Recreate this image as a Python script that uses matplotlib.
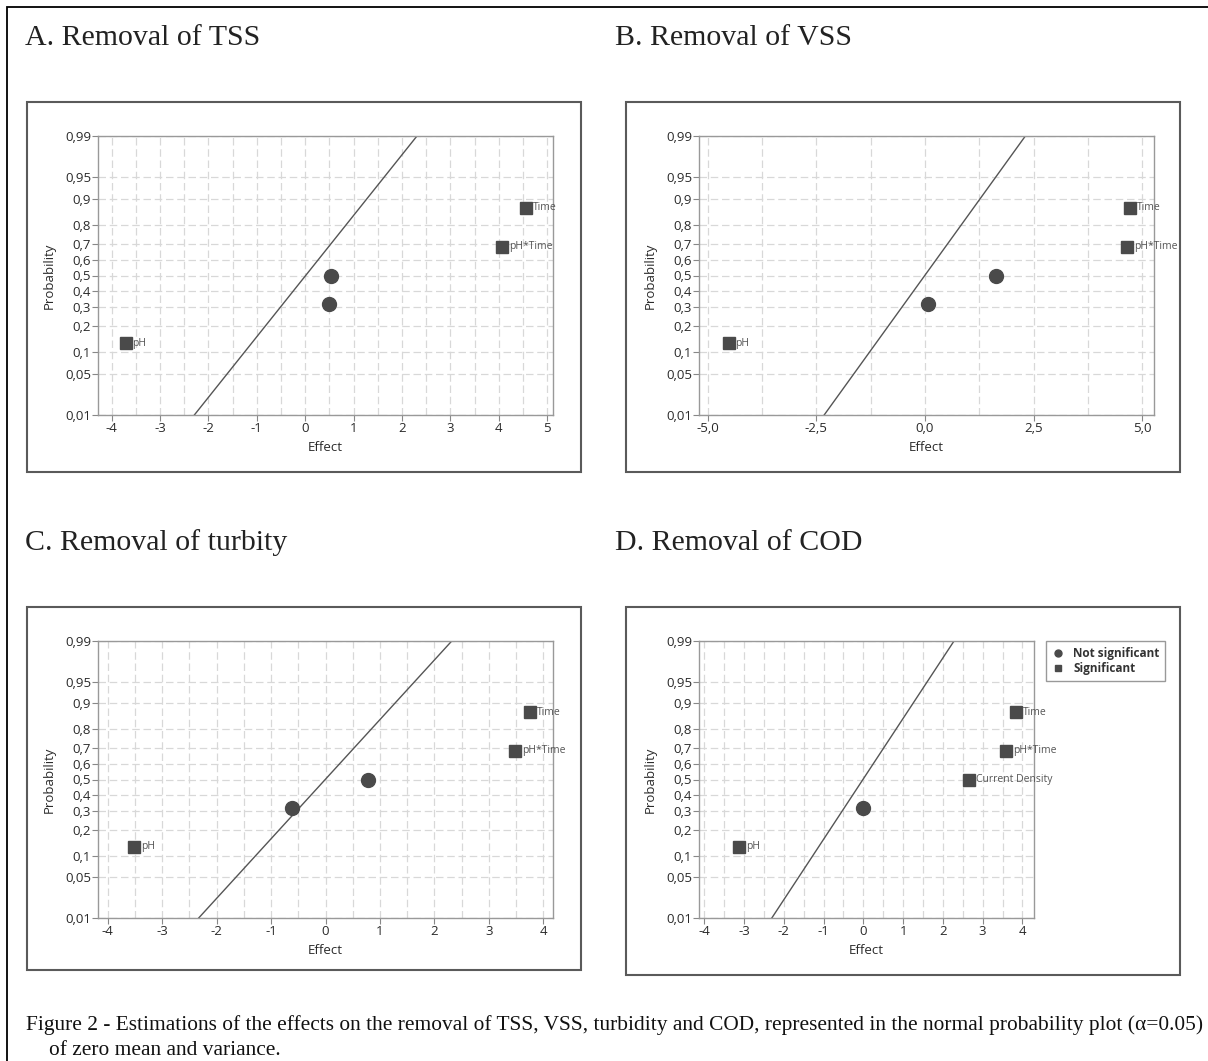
import matplotlib
matplotlib.use("Agg")
import matplotlib.pyplot as plt
from matplotlib.patches import Rectangle
from matplotlib.lines import Line2D
from matplotlib.ticker import MultipleLocator
from matplotlib.transforms import Bbox, TransformedBbox
from statistics import NormalDist

plt.rcParams['font.family'] = ['Open Sans', 'DejaVu Sans']

W, H = 1208, 1061
nd = NormalDist()


def z(ps):
    # normal probability scale: plot the quantile of each probability
    return [nd.inv_cdf(p) for p in ps]


prob_ticks = [0.01, 0.05, 0.1, 0.2, 0.3, 0.4, 0.5, 0.6, 0.7, 0.8, 0.9, 0.95, 0.99]
prob_labels = ['0,01', '0,05', '0,1', '0,2', '0,3', '0,4', '0,5', '0,6', '0,7',
               '0,8', '0,9', '0,95', '0,99']

# plotting positions of the 5 effects (same for every panel)
probs = [0.13, 0.315, 0.5, 0.685, 0.87]
line_prob = [0.01, 0.99]

# A. TSS
a_effect = [-3.71, 0.49, 0.53, 4.07, 4.57]
a_sig = [True, False, False, True, True]
a_label = ['pH', '', '', 'pH*Time', 'Time']
a_line = [-2.29, 2.31]
a_xticks = [-4, -3, -2, -1, 0, 1, 2, 3, 4, 5]
a_xlabels = ['-4', '-3', '-2', '-1', '0', '1', '2', '3', '4', '5']

# B. VSS
b_effect = [-4.52, 0.07, 1.63, 4.66, 4.72]
b_sig = [True, False, False, True, True]
b_label = ['pH', '', '', 'pH*Time', 'Time']
b_line = [-2.32, 2.31]
b_xticks = [-5, -2.5, 0, 2.5, 5]
b_xlabels = ['-5,0', '-2,5', '0,0', '2,5', '5,0']

# C. turbidity
c_effect = [-3.51, -0.61, 0.79, 3.49, 3.76]
c_sig = [True, False, False, True, True]
c_label = ['pH', '', '', 'pH*Time', 'Time']
c_line = [-2.33, 2.32]
c_xticks = [-4, -3, -2, -1, 0, 1, 2, 3, 4]
c_xlabels = ['-4', '-3', '-2', '-1', '0', '1', '2', '3', '4']

# D. COD
d_effect = [-3.12, 0.0, 2.66, 3.59, 3.83]
d_sig = [True, False, True, True, True]
d_label = ['pH', '', 'Current Density', 'pH*Time', 'Time']
d_line = [-2.30, 2.28]
d_xticks = [-4, -3, -2, -1, 0, 1, 2, 3, 4]
d_xlabels = ['-4', '-3', '-2', '-1', '0', '1', '2', '3', '4']

titles = ['A. Removal of TSS', 'B. Removal of VSS',
          'C. Removal of turbity', 'D. Removal of COD']
caption1 = ('Figure 2 - Estimations of the effects on the removal of TSS, VSS, turbidity and COD, '
            'represented in the normal probability plot (\u03b1=0.05)')
caption2 = 'of zero mean and variance.'

fig = plt.figure(figsize=(W / 100, H / 100), dpi=100)


def frect(x0, y0, x1, y1):
    return [x0 / W, 1 - y1 / H, (x1 - x0) / W, (y1 - y0) / H]


# outer frame
fig.add_artist(Rectangle((7 / W, -0.05), 1.2, 1 - 7 / H + 0.05, transform=fig.transFigure,
                         fill=False, ec='black', lw=1.3))

mark_col = '#4a4a4a'

panels = [
    (a_effect, a_sig, a_label, a_line, a_xticks, a_xlabels, 0.5, (-4.28, 5.12),
     (98, 136, 553, 415), (27, 102, 581, 472), (25, 45)),
    (b_effect, b_sig, b_label, b_line, b_xticks, b_xlabels, 1.25, (-5.2, 5.27),
     (699, 136, 1154, 415), (626, 102, 1180, 472), (615, 45)),
    (c_effect, c_sig, c_label, c_line, c_xticks, c_xlabels, 0.5, (-4.18, 4.18),
     (98, 641, 553, 918), (27, 607, 581, 970), (25, 550)),
    (d_effect, d_sig, d_label, d_line, d_xticks, d_xlabels, 0.5, (-4.13, 4.29),
     (699, 641, 1034, 918), (626, 607, 1180, 975), (615, 550)),
]

axes = []
for i, (eff, sig, lab, lin, xt, xl, step, xlim, apos, bpos, tpos) in enumerate(panels):
    box = Rectangle((bpos[0] / W, 1 - bpos[3] / H), (bpos[2] - bpos[0]) / W,
                    (bpos[3] - bpos[1]) / H, transform=fig.transFigure,
                    fill=False, ec='#5a5a5a', lw=1.5)
    fig.add_artist(box)
    clipbox = TransformedBbox(Bbox.from_extents(bpos[0] / W, 1 - bpos[3] / H,
                                                bpos[2] / W, 1 - bpos[1] / H),
                              fig.transFigure)
    fig.text(tpos[0] / W, 1 - tpos[1] / H, titles[i], family='Liberation Serif',
             fontsize=21.5, color='#222222', va='baseline', ha='left')

    ax = fig.add_axes(frect(*apos))
    axes.append(ax)
    ax.set_xlim(*xlim)
    ax.set_ylim(z(line_prob)[0], z(line_prob)[1])
    ax.set_xticks(xt)
    ax.set_xticklabels(xl)
    ax.xaxis.set_minor_locator(MultipleLocator(step))
    ax.set_yticks(z(prob_ticks))
    ax.set_yticklabels(prob_labels)
    ax.grid(True, which='both', axis='x', color='#d8d8d8', ls=(0, (6, 3)), lw=0.9)
    ax.grid(True, which='major', axis='y', color='#d8d8d8', ls=(0, (6, 3)), lw=0.9)
    ax.set_axisbelow(True)
    ax.tick_params(which='major', direction='out', length=4, width=0.8, color='#888888',
                   labelsize=9.5, labelcolor='#2a2a2a', pad=1)
    ax.tick_params(which='minor', length=0)
    for s in ax.spines.values():
        s.set_color('#999999')
        s.set_linewidth(1.0)

    ax.plot(lin, z(line_prob), color='#555555', lw=1.0)
    for e, p, s, t in zip(eff, probs, sig, lab):
        zp = nd.inv_cdf(p)
        if s:
            ax.plot(e, zp, marker='s', ms=8.6, color=mark_col, ls='none', clip_on=False)
        else:
            ax.plot(e, zp, marker='o', ms=10, color=mark_col, ls='none', clip_on=False)
        if t:
            tx = ax.annotate(t, (e, zp), xytext=(5, 0), textcoords='offset points',
                             ha='left', va='center', fontsize=7.5, color='#555555',
                             annotation_clip=False)
            tx.set_clip_on(True)
            tx.set_clip_box(clipbox)

    aw = apos[2] - apos[0]
    ah = apos[3] - apos[1]
    ax.set_ylabel('Probability', fontsize=9.5, color='#2a2a2a')
    ax.yaxis.set_label_coords(-42 / aw, 0.5)
    ax.set_xlabel('Effect', fontsize=9.5, color='#2a2a2a')
    ax.xaxis.set_label_coords(0.5, -26 / ah)

handles = [Line2D([], [], marker='o', ls='none', color=mark_col, ms=5),
           Line2D([], [], marker='s', ls='none', color=mark_col, ms=5)]
leg = axes[3].legend(handles, ['Not significant', 'Significant'], loc='upper left',
                     bbox_to_anchor=(1046 / W, 1 - 641 / H), bbox_transform=fig.transFigure,
                     frameon=True, fancybox=False, edgecolor='#999999', framealpha=1,
                     prop={'size': 8.5, 'weight': 'bold'}, borderpad=0.5,
                     handletextpad=0.8, labelspacing=0.15, handlelength=1.0,
                     borderaxespad=0)
for t in leg.get_texts():
    t.set_color('#333333')

fig.text(26 / W, 1 - 1030 / H, caption1, family='Liberation Serif', fontsize=15.4,
         color='#111111', va='baseline', ha='left')
fig.text(49 / W, 1 - 1055 / H, caption2, family='Liberation Serif', fontsize=15.4,
         color='#111111', va='baseline', ha='left')

fig.savefig('out.png', dpi=100)
